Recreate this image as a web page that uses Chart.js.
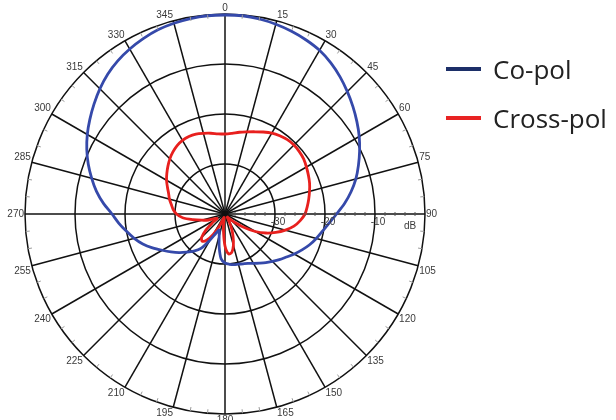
<!DOCTYPE html>
<html>
<head>
<meta charset="utf-8">
<script src="https://cdn.jsdelivr.net/npm/chart.js@4.4.1/dist/chart.umd.min.js"></script>
<style>
  html, body { margin: 0; padding: 0; background: #fff; }
  #wrap { position: relative; width: 616px; height: 420px; overflow: hidden; }
  #wrap canvas { position: absolute; left: 0; top: 0; }
  .item { position: absolute; left: 446px; height: 24px; font-family: 'Open Sans', sans-serif; font-size: 26px; line-height: 24px; color: #222; }
  .item .swatch { position: absolute; left: 0; top: 10px; width: 35px; height: 4px; }
  .item .txt { position: absolute; left: 47px; top: 0; white-space: nowrap; }
</style>
</head>
<body>
<div id="wrap">
  <canvas id="pattern" width="616" height="420"></canvas>
  <div class="item" style="top:57px"><span class="swatch" style="background:#1c2f68"></span><span class="txt">Co-pol</span></div>
  <div class="item" style="top:106px"><span class="swatch" style="background:#e82323"></span><span class="txt">Cross-pol</span></div>
</div>
<script>
// angle in degrees, clockwise from top, every 5 degrees
let angles = []
for (let a = 0; a < 360; a += 5) angles.push(a)

// dB values, one per angle above
let coPol = [
  -0.2, -0.2, -0.4, -0.7, -1.1, -1.6, -2.2, -3.1, -4.2, -5.4, -6.6, -7.8,
  -9.0, -10.3, -11.6, -12.9, -14.4, -16.0, -17.7, -19.1, -20.2, -21.1, -22.0, -23.0,
  -24.0, -25.0, -25.8, -26.6, -27.3, -28.0, -28.6, -29.1, -29.4, -29.6, -29.7, -29.9,
  -30.2, -31.0, -33.3, -35.5, -36.6, -35.8, -34.0, -31.6, -30.3, -29.2, -28.0, -26.8,
  -25.5, -24.0, -22.5, -21.2, -20.0, -18.7, -17.4, -15.6, -13.9, -12.4, -10.9, -9.5,
  -8.2, -7.0, -5.8, -4.6, -3.5, -2.6, -1.9, -1.3, -0.8, -0.5, -0.3, -0.2
]
let crossPol = [
  -24.0, -23.8, -23.4, -23.0, -22.5, -21.9, -21.3, -20.9, -20.6, -20.5, -20.6, -20.8,
  -21.2, -21.6, -22.0, -22.5, -23.0, -23.5, -24.0, -24.9, -26.0, -27.5, -29.2, -31.0,
  -33.0, -35.3, -37.3, -38.5, -39.2, -39.2, -38.5, -37.0, -35.3, -33.5, -32.2, -32.0,
  -33.6, -36.5, -38.5, -39.3, -39.0, -37.3, -35.3, -33.6, -32.9, -33.4, -35.0, -37.0,
  -38.2, -37.8, -36.5, -35.2, -33.5, -31.5, -30.3, -29.6, -29.1, -28.5, -28.0, -27.3,
  -26.5, -25.8, -25.1, -24.4, -23.8, -23.3, -23.0, -22.9, -23.0, -23.3, -23.6, -23.9
]

let ringValues = [-30, -20, -10]
let ringLabels = ['-30', '-20', '-10']
let unitLabel = 'dB'
let unitValue = -3

const polarDecor = {
  id: 'polarDecor',
  afterDraw(chart) {
    const r = chart.scales.r
    const ctx = chart.ctx
    const i90 = angles.indexOf(90)
    ctx.save()
    // small ticks on the outer ring between the spokes
    ctx.strokeStyle = '#9a9a9a'
    ctx.lineWidth = 1
    angles.forEach((a, i) => {
      if (a % 15 === 0) return
      const p1 = r.getPointPosition(i, r.drawingArea)
      const p2 = r.getPointPosition(i, r.drawingArea - 4)
      ctx.beginPath(); ctx.moveTo(p1.x, p1.y); ctx.lineTo(p2.x, p2.y); ctx.stroke()
    })
    // dB ticks along the 90 spoke
    ctx.strokeStyle = '#555'
    for (let v = -38; v < 0; v += 2) {
      if (v % 10 === 0) continue
      const p = r.getPointPositionForValue(i90, v)
      ctx.beginPath(); ctx.moveTo(p.x, p.y - 2); ctx.lineTo(p.x, p.y + 2); ctx.stroke()
    }
    // angle labels
    ctx.font = '10px "Liberation Sans", Arial, sans-serif'
    ctx.fillStyle = '#3a3a3a'
    angles.forEach((a, i) => {
      if (a % 15) return
      const p = r.getPointPosition(i, r.drawingArea + 1)
      ctx.textAlign = (a === 0 || a === 180) ? 'center' : (a < 180 ? 'left' : 'right')
      ctx.textBaseline = (a === 90 || a === 270) ? 'middle' : ((a < 90 || a > 270) ? 'bottom' : 'top')
      ctx.fillText(String(a), p.x, p.y)
    })
    // ring labels
    ctx.textAlign = 'center'
    ctx.textBaseline = 'top'
    ringValues.forEach((v, k) => {
      const p = r.getPointPositionForValue(i90, v)
      ctx.fillText(ringLabels[k], p.x + 3, p.y + 3)
    })
    const pu = r.getPointPositionForValue(i90, unitValue)
    ctx.fillText(unitLabel, pu.x, pu.y + 7)
    ctx.restore()
  }
}

let pattern = new Chart(document.querySelector('#pattern'), {
  type: 'radar',
  plugins: [polarDecor],
  data: {
    labels: angles,
    datasets: [{
      label: 'Co-pol',
      data: coPol,
      borderColor: '#3549aa',
      borderWidth: 2.8,
      fill: false,
      pointRadius: 0,
      tension: 0.3
    }, {
      label: 'Cross-pol',
      data: crossPol,
      borderColor: '#e8201e',
      borderWidth: 2.8,
      fill: false,
      pointRadius: 0,
      tension: 0.3
    }]
  },
  options: {
    responsive: false,
    animation: false,
    layout: {
      padding: {
        top: 14,
        bottom: 6,
        left: 25,
        right: 191
      }
    },
    scales: {
      r: {
        min: -40,
        max: 0,
        startAngle: 0,
        ticks: {
          display: false,
          stepSize: 10
        },
        grid: {
          circular: true,
          color: '#111',
          lineWidth: 1.5
        },
        angleLines: {
          color: '#111',
          lineWidth: function (context) {
            return angles[context.index] % 15 === 0 ? 1.5 : 0
          }
        },
        pointLabels: {
          display: false
        }
      }
    },
    plugins: {
      legend: {
        display: false
      },
      tooltip: {
        enabled: false
      }
    }
  }
})
</script>
</body>
</html>
